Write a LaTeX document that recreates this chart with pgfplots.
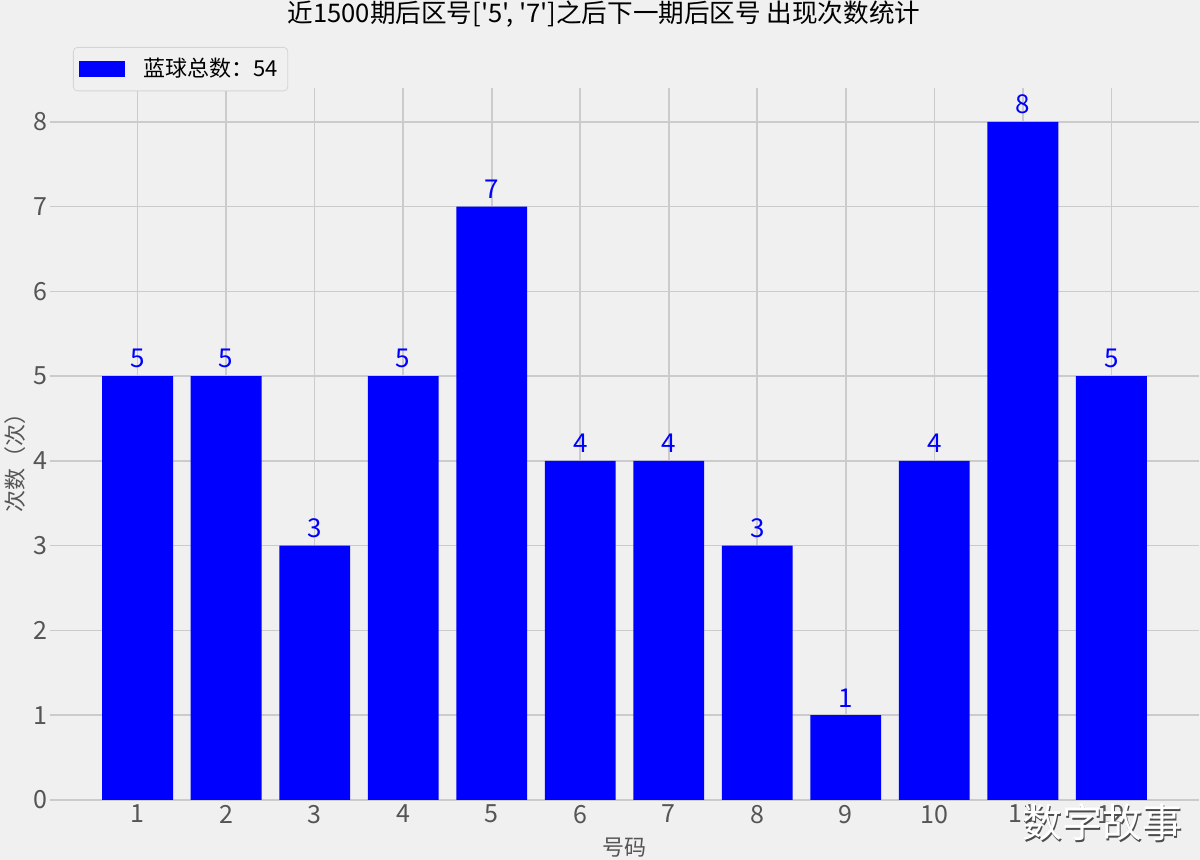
\documentclass[border=0pt]{standalone}
\usepackage{fontspec}
\setmainfont{Noto Sans CJK SC}
\newfontfamily\plainfont{Noto Sans CJK SC}
\usepackage{pgfplots}
\pgfplotsset{compat=1.18}
\usetikzlibrary{backgrounds,calc}
\definecolor{bg}{HTML}{F0F0F0}
\definecolor{gridc}{HTML}{CBCBCB}
\definecolor{tickc}{HTML}{555555}
\definecolor{legc}{HTML}{D5D5D5}
\begin{document}
\begin{tikzpicture}
\begin{axis}[name=ax, scale only axis, width=574.5pt, height=356pt,
  xmin=0.01, xmax=12.99, ymin=0, ymax=8.4,
  xtick={1,...,12}, ytick={0,...,8},
  axis line style={draw=none}, major tick length=0pt,
  grid=major, major grid style={gridc, line width=0.8pt},
  tick label style={font=\fontsize{12.5}{14}\selectfont, text=tickc},
  /pgf/number format/assume math mode=true,
  yticklabel style={xshift=2pt},
  xticklabel style={yshift=1pt},
  clip=false,
  legend style={at={(0.02,1.0576)}, anchor=north west, fill=bg, draw=legc,
    rounded corners=2pt, font=\fontsize{11}{13}\selectfont, inner xsep=3pt, inner ysep=3.5pt,
    /tikz/every even column/.append style={column sep=0pt}},
  legend image code/.code={\fill[blue, sharp corners] (0pt,-4pt) rectangle (23pt,4pt);},
]
\addplot[ybar, bar shift=0pt, bar width=0.8, fill=blue, draw=none,
  nodes near coords, nodes near coords style={blue, font=\fontsize{13}{15}\selectfont, anchor=south, yshift=0.5pt}]
  coordinates {(1,5) (2,5) (3,3) (4,5) (5,7) (6,4) (7,4) (8,3) (9,1) (10,4) (11,8) (12,5)};
\addlegendentry{\hspace{7pt}蓝球总数：54\hspace{2pt}}
\end{axis}
\node[font=\plainfont\fontsize{12.8}{15}\selectfont] at ($(ax.north west)+(277pt,37pt)$) {近1500期后区号['5', '7']之后下一期后区号 出现次数统计};
\node[font=\fontsize{11}{13}\selectfont, text=tickc, rotate=90] at ($(ax.south west)+(-17.5pt,171pt)$) {次数（次）};
\node[font=\fontsize{11}{13}\selectfont, text=tickc] at ($(ax.south west)+(287pt,-24pt)$) {号码};
\node[font=\fontsize{20}{22}\selectfont, text=gray!60!black] at ($(ax.south west)+(526.9pt,-11.9pt)$) {数字故事};
\node[font=\fontsize{20}{22}\selectfont, text=white] at ($(ax.south west)+(526pt,-11pt)$) {数字故事};
\pgfresetboundingbox
\begin{scope}[on background layer]
\fill[bg] ($(ax.south west)+(-25pt,-30pt)$) rectangle ($(ax.north east)+(0.5pt,44pt)$);
\end{scope}
\end{tikzpicture}
\end{document}
